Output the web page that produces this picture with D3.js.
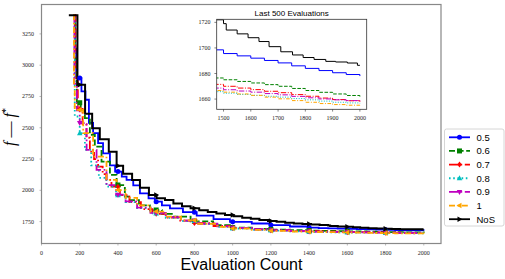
<!DOCTYPE html>
<html>
<head>
<meta charset="utf-8">
<script src="https://cdn.jsdelivr.net/npm/d3@7"></script>
<style>
  body { margin: 0; background: #fff; }
  svg { display: block; }
  .tick-lbl { font-family: "Liberation Serif", serif; font-size: 6px; fill: #222; }
</style>
</head>
<body>
<div id="chart"></div>
<script>
// series: [evaluation, f - f*] step points
const s05 = [[165,3400],[176,3132],[182,2897],[209,2790],[230,2724],[248,2539],[270,2457],[296,2377],[322,2296],[358,2200],[385,2150],[420,2110],[445,2083],[480,2040],[515,1976],[560,1935],[593,1909],[630,1880],[672,1856],[740,1825],[812,1797],[900,1770],[986,1748],[1100,1735],[1200,1722],[1300,1711],[1400,1702],[1450,1698.5],[1500,1695.6],[1550,1693.8],[1600,1692],[1650,1690.2],[1700,1688.3],[1750,1686],[1800,1684],[1850,1682.3],[1900,1680.6],[1950,1679.2],[2000,1678]];
const s06 = [[165,3400],[176,3050],[185,2700],[205,2640],[227,2577],[253,2443],[279,2349],[314,2229],[358,2123],[393,2042],[436,1949],[462,1922],[510,1880],[567,1842],[630,1812],[689,1789],[780,1752],[898,1722],[986,1702],[1100,1692],[1200,1686],[1300,1681],[1400,1678],[1450,1676.5],[1500,1675.1],[1550,1673.8],[1600,1672.6],[1650,1671.3],[1700,1670],[1750,1668.3],[1800,1666.7],[1850,1665.3],[1900,1664],[1950,1662.8],[2000,1661.5]];
const s07 = [[165,3400],[178,2900],[190,2650],[215,2530],[235,2420],[253,2309],[275,2250],[296,2189],[320,2130],[340,2083],[366,2029],[410,1962],[460,1905],[520,1850],[580,1812],[650,1782],[720,1758],[800,1738],[900,1715],[1000,1698],[1100,1688],[1200,1681],[1300,1676],[1400,1673],[1450,1671.5],[1500,1670],[1550,1668.6],[1600,1667.4],[1650,1666.1],[1700,1665],[1750,1663.5],[1800,1662.2],[1850,1660.8],[1900,1659.6],[1950,1658.7],[2000,1658]];
const s08 = [[165,3400],[174,2590],[200,2457],[227,2323],[260,2200],[300,2100],[340,2030],[390,1960],[440,1905],[500,1858],[570,1815],[650,1780],[730,1755],[820,1730],[920,1708],[1000,1695],[1100,1685],[1200,1678],[1300,1672],[1400,1667],[1450,1665.8],[1500,1664.6],[1550,1663.6],[1600,1662.9],[1650,1662.2],[1700,1661.5],[1750,1660.4],[1800,1659.4],[1850,1658.4],[1900,1657.5],[1950,1657],[2000,1656.7]];
const s09 = [[165,3400],[172,2850],[185,2640],[200,2537],[236,2323],[288,2163],[340,2042],[390,1965],[440,1912],[500,1862],[570,1820],[650,1785],[730,1758],[820,1733],[920,1712],[1000,1700],[1100,1689],[1200,1681],[1300,1675],[1400,1670],[1450,1668.6],[1500,1667.3],[1550,1666.3],[1600,1665.4],[1650,1664.3],[1700,1663.3],[1750,1662.1],[1800,1661],[1850,1660.1],[1900,1659.4],[1950,1658.8],[2000,1658.3]];
const s10 = [[165,3400],[170,2844],[174,2643],[218,2457],[270,2269],[340,2083],[393,2002],[440,1940],[500,1880],[570,1830],[650,1790],[730,1760],[820,1732],[920,1708],[1000,1695],[1100,1684],[1200,1676],[1300,1671],[1400,1668],[1450,1666.7],[1500,1665.4],[1550,1664],[1600,1662.9],[1650,1661.5],[1700,1660.2],[1750,1658.8],[1800,1657.5],[1850,1656.5],[1900,1655.7],[1950,1655.2],[2000,1655]];
const sNoS = [[143,3400],[188,2844],[228,2611],[265,2497],[305,2409],[352,2309],[393,2197],[427,2133],[474,2083],[515,2021],[562,1962],[602,1936],[646,1922],[690,1895],[735,1872],[780,1856],[825,1840],[870,1826],[915,1814],[960,1803],[1005,1792],[1050,1781],[1095,1772],[1140,1763],[1185,1755],[1230,1748],[1275,1741],[1320,1735],[1365,1730],[1410,1726],[1455,1722],[1500,1719],[1510,1714],[1550,1711],[1590,1708],[1630,1705],[1667,1701],[1710,1697],[1753,1694.5],[1792,1692.5],[1832,1691],[1875,1689.5],[1911,1689],[1954,1688.2],[1991,1686.4],[2000,1686.4]];

const labels = ["0.5", "0.6", "0.7", "0.8", "0.9", "1", "NoS"];
const colors = ["#0000ff", "#008000", "#ff0000", "#00bfbf", "#bf00bf", "#ffa500", "#000000"];
const dashes = [null, "6,2.6", "9,2.6,1.6,2.6", "1.6,2.6", "9,2.6,1.6,2.6", "6,2.6,1.6,2.6", null];
const markers = ["circle", "square", "diamond", "tri-up", "tri-down", "tri-left", "tri-right"];
const seriesData = [s05, s06, s07, s08, s09, s10, sNoS];

const xTicks = d3.range(0, 2001, 200);
const yTicks = [1750, 2000, 2250, 2500, 2750, 3000, 3250];
const markAt = d3.range(200, 1801, 200);
const insetXTicks = [1500, 1600, 1700, 1800, 1900, 2000];
const insetYTicks = [1660, 1680, 1700, 1720];

const W = 505, H = 279;
const svg = d3.select("#chart").append("svg").attr("width", W).attr("height", H);

// main axes
const x = d3.scaleLinear().domain([0, 2090]).range([41.5, 441]);
const y = d3.scaleLinear().domain([1575, 3485]).range([243.5, 4.5]);

const line = (sx, sy) => d3.line().x(d => sx(d[0])).y(d => sy(d[1])).curve(d3.curveStepAfter);

function markerPath(type, size) {
  const s = size;
  switch (type) {
    case "circle": return d3.symbol(d3.symbolCircle, s * s * 0.8)();
    case "square": return `M${-s/2},${-s/2}h${s}v${s}h${-s}Z`;
    case "diamond": return `M0,${-s*0.6}L${s*0.45},0L0,${s*0.6}L${-s*0.45},0Z`;
    case "tri-up": return `M0,${-s*0.6}L${s*0.55},${s*0.4}L${-s*0.55},${s*0.4}Z`;
    case "tri-down": return `M0,${s*0.6}L${s*0.55},${-s*0.4}L${-s*0.55},${-s*0.4}Z`;
    case "tri-left": return `M${-s*0.6},0L${s*0.4},${-s*0.55}L${s*0.4},${s*0.55}Z`;
    case "tri-right": return `M${s*0.6},0L${-s*0.4},${-s*0.55}L${-s*0.4},${s*0.55}Z`;
  }
}

function valueAt(data, e) {
  const i = d3.bisector(d => d[0]).right(data, e) - 1;
  return data[Math.max(0, i)][1];
}

const main = svg.append("g");
svg.append("clipPath").attr("id", "clipM").append("rect")
  .attr("x", 41.5).attr("y", 4.5).attr("width", 399.5).attr("height", 239);

const plotM = main.append("g").attr("clip-path", "url(#clipM)");
seriesData.forEach((data, i) => {
  plotM.append("path")
    .attr("d", line(x, y)(data))
    .attr("fill", "none")
    .attr("stroke", colors[i])
    .attr("stroke-width", i === 6 ? 2 : 1.8)
    .attr("stroke-dasharray", dashes[i]);
});
seriesData.forEach((data, i) => {
  plotM.selectAll(null).data(markAt).join("path")
    .attr("transform", e => `translate(${x(e)},${y(valueAt(data, e))})`)
    .attr("d", markerPath(markers[i], 5))
    .attr("fill", colors[i]);
});

// main spines & ticks
main.append("rect").attr("x", 41.5).attr("y", 4.5).attr("width", 399.5).attr("height", 239)
  .attr("fill", "none").attr("stroke", "#888").attr("stroke-width", 1.2);

main.selectAll(".xt").data(xTicks).join("text")
  .attr("class", "tick-lbl").attr("x", d => x(d)).attr("y", 254.5)
  .attr("text-anchor", "middle").text(d => d);
main.selectAll(".xtm").data(xTicks).join("line")
  .attr("x1", d => x(d)).attr("x2", d => x(d)).attr("y1", 243.5).attr("y2", 245.5)
  .attr("stroke", "#888").attr("stroke-width", 0.6);
main.selectAll(".yt").data(yTicks).join("text")
  .attr("class", "tick-lbl").attr("x", 34).attr("y", d => y(d) + 2)
  .attr("text-anchor", "end").text(d => d);
main.selectAll(".ytm").data(yTicks).join("line")
  .attr("x1", 39.5).attr("x2", 41.5).attr("y1", d => y(d)).attr("y2", d => y(d))
  .attr("stroke", "#888").attr("stroke-width", 0.6);

svg.append("text").attr("x", 241.5).attr("y", 270)
  .attr("text-anchor", "middle")
  .style("font-family", "'Liberation Sans', Arial, sans-serif").style("font-size", "16px")
  .text("Evaluation Count");

const yl = svg.append("text")
  .attr("transform", "translate(15,127) rotate(-90)")
  .attr("text-anchor", "middle")
  .style("font-family", "'Liberation Serif', serif").style("font-size", "16px");
yl.append("tspan").style("font-style", "italic").text("f");
yl.append("tspan").text(" \u2014 ");
yl.append("tspan").style("font-style", "italic").text("f");
yl.append("tspan").attr("dy", -6).style("font-size", "10px").text("*");

// inset
const xi = d3.scaleLinear().domain([1475, 2025]).range([216.7, 366.7]);
const yi = d3.scaleLinear().domain([1652, 1722.4]).range([109.3, 19.3]);
const inset = svg.append("g");
inset.append("rect").attr("x", 216.7).attr("y", 19.3).attr("width", 150).attr("height", 90).attr("fill", "#fff");
svg.append("clipPath").attr("id", "clipI").append("rect")
  .attr("x", 216.7).attr("y", 19.3).attr("width", 150).attr("height", 90);
const plotI = inset.append("g").attr("clip-path", "url(#clipI)");
seriesData.forEach((data, i) => {
  const tail = data.filter(d => d[0] >= 1400);
  plotI.append("path")
    .attr("d", line(xi, yi)(tail))
    .attr("fill", "none")
    .attr("stroke", colors[i])
    .attr("stroke-width", 1)
    .attr("stroke-dasharray", dashes[i] ? dashes[i].split(",").map(v => v * 0.6).join(",") : null);
});
inset.append("rect").attr("x", 216.7).attr("y", 19.3).attr("width", 150).attr("height", 90)
  .attr("fill", "none").attr("stroke", "#333").attr("stroke-width", 0.8);
inset.selectAll(".ixt").data(insetXTicks).join("text")
  .attr("class", "tick-lbl").attr("x", d => xi(d)).attr("y", 119.5)
  .attr("text-anchor", "middle").text(d => d);
inset.selectAll(".ixtm").data(insetXTicks).join("line")
  .attr("x1", d => xi(d)).attr("x2", d => xi(d)).attr("y1", 109.3).attr("y2", 111.6)
  .attr("stroke", "#333").attr("stroke-width", 0.6);
inset.selectAll(".iyt").data(insetYTicks).join("text")
  .attr("class", "tick-lbl").attr("x", 210.5).attr("y", d => yi(d) + 2)
  .attr("text-anchor", "end").text(d => d);
inset.selectAll(".iytm").data(insetYTicks).join("line")
  .attr("x1", 214.4).attr("x2", 216.7).attr("y1", d => yi(d)).attr("y2", d => yi(d))
  .attr("stroke", "#333").attr("stroke-width", 0.6);
inset.append("text").attr("x", 291.7).attr("y", 16)
  .attr("text-anchor", "middle")
  .style("font-family", "'Liberation Sans', Arial, sans-serif").style("font-size", "8px")
  .text("Last 500 Evaluations");

// legend
const lg = svg.append("g");
lg.append("rect").attr("x", 444.5).attr("y", 129).attr("width", 59.5).attr("height", 97)
  .attr("rx", 2).attr("fill", "#fff").attr("stroke", "#ccc").attr("stroke-width", 0.8);
labels.forEach((lab, i) => {
  const ly = 137.3 + i * 13.65;
  lg.append("line").attr("x1", 449).attr("x2", 470).attr("y1", ly).attr("y2", ly)
    .attr("stroke", colors[i]).attr("stroke-width", 1.8).attr("stroke-dasharray", dashes[i]);
  lg.append("path").attr("transform", `translate(459.5,${ly})`)
    .attr("d", markerPath(markers[i], 5)).attr("fill", colors[i]);
  lg.append("text").attr("x", 476.5).attr("y", ly + 3.4)
    .style("font-family", "'Liberation Sans', Arial, sans-serif").style("font-size", "9.5px")
    .text(lab);
});
</script>
</body>
</html>
